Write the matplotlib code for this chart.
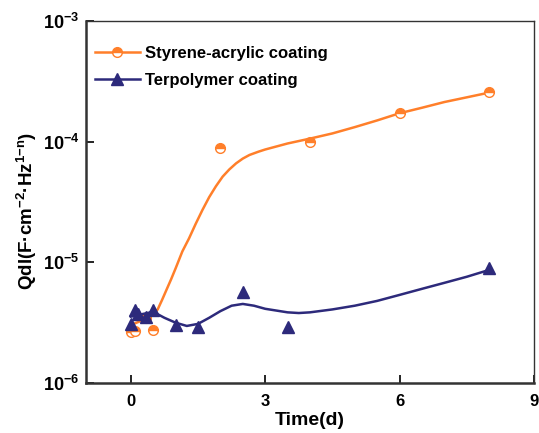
import matplotlib
matplotlib.use('Agg')
import matplotlib.pyplot as plt
from matplotlib.ticker import FixedLocator, FuncFormatter
import numpy as np

plt.rcParams['font.family'] = ['Liberation Sans', 'DejaVu Sans']
plt.rcParams['font.weight'] = 'bold'
plt.rcParams['mathtext.fontset'] = 'custom'
plt.rcParams['mathtext.rm'] = 'Liberation Sans:bold'
plt.rcParams['mathtext.bf'] = 'Liberation Sans:bold'

# measured points
styrene_x = [0, 0.083, 0.33, 0.5, 2, 4, 6, 8]
styrene_y = [2.65e-6, 2.7e-6, 3.45e-6, 2.75e-6, 8.8e-5, 1.0e-4, 1.74e-4, 2.56e-4]

terp_x = [0, 0.083, 0.17, 0.33, 0.5, 1, 1.5, 2.5, 3.5, 8]
terp_y = [3.1e-6, 4.05e-6, 3.7e-6, 3.5e-6, 4.0e-6, 3.05e-6, 2.93e-6, 5.7e-6, 2.93e-6, 8.9e-6]

# smoothed fit curves
styrene_fit_x = [0, 0.2, 0.4, 0.5, 0.6, 0.7, 0.8, 0.9, 1.0, 1.15, 1.3, 1.45,
                 1.6, 1.75, 1.9, 2.05, 2.2, 2.35, 2.5, 2.65, 2.85, 3.0, 3.5,
                 4.0, 4.5, 5.0, 5.5, 6.0, 6.5, 7.0, 7.5, 8.0]
styrene_fit_y = [3.02e-6, 3.24e-6, 3.51e-6, 3.72e-6, 4.07e-6, 4.90e-6, 5.96e-6,
                 7.24e-6, 8.91e-6, 1.23e-5, 1.58e-5, 2.09e-5, 2.72e-5, 3.47e-5,
                 4.27e-5, 5.13e-5, 5.89e-5, 6.61e-5, 7.24e-5, 7.76e-5, 8.26e-5,
                 8.61e-5, 9.66e-5, 1.06e-4, 1.17e-4, 1.32e-4, 1.50e-4, 1.72e-4,
                 1.91e-4, 2.13e-4, 2.33e-4, 2.55e-4]

terp_fit_x = [0, 0.25, 0.5, 0.75, 1.0, 1.25, 1.5, 1.75, 2.0, 2.25, 2.5, 2.75,
              3.0, 3.5, 3.75, 4.0, 4.5, 5.0, 5.5, 6.0, 6.5, 7.0, 7.5, 8.0]
terp_fit_y = [3.55e-6, 3.72e-6, 3.89e-6, 3.47e-6, 3.16e-6, 2.97e-6, 3.09e-6,
              3.47e-6, 3.94e-6, 4.37e-6, 4.52e-6, 4.37e-6, 4.12e-6, 3.85e-6,
              3.80e-6, 3.85e-6, 4.07e-6, 4.37e-6, 4.79e-6, 5.37e-6, 6.03e-6,
              6.76e-6, 7.59e-6, 8.65e-6]

x_ticks = [0, 3, 6, 9]
y_ticks = [1e-6, 1e-5, 1e-4, 1e-3]

orange = '#FF7F2A'
navy = '#2D2A7B'

fig = plt.figure(figsize=(5.39, 4.33), dpi=100)
ax = fig.add_axes([0.1596, 0.1155, 0.831, 0.836])

l1, = ax.plot(styrene_fit_x, styrene_fit_y, color=orange, lw=1.8)
p1, = ax.plot(styrene_x, styrene_y, ls='none', marker='o', ms=7,
              fillstyle='top', markerfacecolor=orange,
              markerfacecoloralt='white', markeredgecolor=orange, mew=1.0)
l2, = ax.plot(terp_fit_x, terp_fit_y, color=navy, lw=1.8)
p2, = ax.plot(terp_x, terp_y, ls='none', marker='^', ms=9, color=navy)

ax.set_yscale('log')
ax.set_xlim(-1, 9)
ax.set_ylim(1e-6, 1e-3)
ax.xaxis.set_major_locator(FixedLocator(x_ticks))
ax.yaxis.set_major_locator(FixedLocator(y_ticks))
ax.yaxis.set_minor_locator(FixedLocator([]))
ax.yaxis.set_major_formatter(FuncFormatter(
    lambda v, pos: r'$\mathbf{10^{%d}}$' % int(round(np.log10(v)))))

ax.tick_params(direction='in', length=6, width=1.2, labelsize=12, pad=8,
               top=False, right=False)
ax.tick_params(axis='y', labelsize=13, pad=5)

for side in ['left', 'bottom']:
    ax.spines[side].set_linewidth(1.8)
    ax.spines[side].set_color('#333333')
for side in ['top', 'right']:
    ax.spines[side].set_linewidth(1.0)
    ax.spines[side].set_color('#333333')

ax.set_xlabel('Time(d)', fontsize=14, fontweight='bold', labelpad=2)
ax.set_ylabel(r'Qdl(F·cm$^{\mathbf{{-}2}}$·Hz$^{\mathbf{1{-}n}}$)',
              fontsize=13.5, fontweight='bold')
ax.yaxis.set_label_coords(-0.106, 0.475)

ax.legend([(l1, p1), (l2, p2)], ['Styrene-acrylic coating', 'Terpolymer coating'],
          loc='upper left', bbox_to_anchor=(0.02, 0.931), frameon=False,
          fontsize=12, handlelength=2.7, handletextpad=0.3, labelspacing=0.73,
          borderpad=0, borderaxespad=0)

fig.savefig('out.png', dpi=100)
